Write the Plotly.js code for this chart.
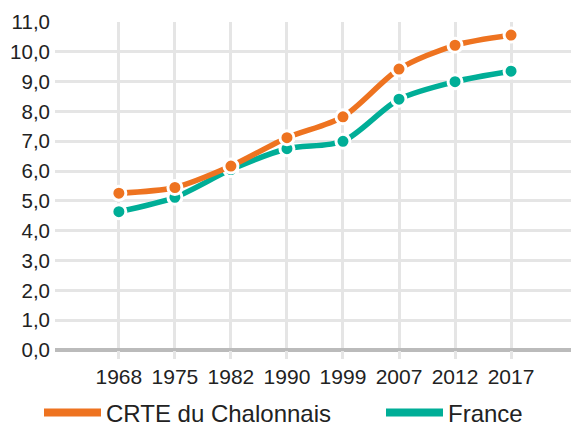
<!DOCTYPE html>
<html><head><meta charset="utf-8">
<script src="https://cdn.plot.ly/plotly-3.0.1.min.js"></script>
<style>body{margin:0}#c{width:571px;height:423px}</style>
</head><body><div id="c"></div>
<script>
const years = ['1968','1975','1982','1990','1999','2007','2012','2017'];
const crte = [5.26, 5.45, 6.17, 7.12, 7.82, 9.42, 10.22, 10.56];
const france = [4.64, 5.12, 6.05, 6.75, 7.0, 8.41, 9.0, 9.35];
const names = ['CRTE du Chalonnais', 'France'];
const colors = ['#ee7320', '#00ae97'];

function series(y, i){
  return {x: years, y: y, type:'scatter', mode:'lines+markers', showlegend:false,
    line:{color:colors[i], width:5.5, shape:'spline', smoothing:0.8},
    marker:{color:colors[i], size:14, line:{color:'#ffffff', width:3}},
    cliponaxis:false};
}
const data = [
  series(france, 1), series(crte, 0),
  {x:[years[0]], y:[null], type:'scatter', mode:'lines', name:names[0], legend:'legend', line:{color:colors[0], width:8}},
  {x:[years[0]], y:[null], type:'scatter', mode:'lines', name:names[1], legend:'legend2', line:{color:colors[1], width:8}}
];
const legBase = {orientation:'h', xanchor:'left', yref:'container', y:10/423, yanchor:'middle', font:{size:24}, itemwidth:57, bgcolor:'rgba(0,0,0,0)'};
const layout = {
  width:571, height:423,
  margin:{l:55, r:0, t:22, b:73, autoexpand:false},
  separators:',.',
  font:{family:'Liberation Sans, Arial, sans-serif', size:21, color:'#222'},
  paper_bgcolor:'#fff', plot_bgcolor:'#fff',
  xaxis:{type:'category', range:[-1.14, 8.07], showgrid:true, gridcolor:'#e5e5e5', gridwidth:3,
    ticks:'outside', ticklen:8, tickcolor:'#e5e5e5', tickwidth:3, showline:false, zeroline:false,
    tickfont:{size:21}, fixedrange:true},
  yaxis:{range:[0, 11], dtick:1, tickformat:'.1f', showgrid:true, gridcolor:'#e5e5e5', gridwidth:3,
    zeroline:true, zerolinecolor:'#bbbbbb', zerolinewidth:4, showline:false, ticks:'',
    ticklabelstandoff:4, tickfont:{size:20.5}},
  legend:Object.assign({}, legBase, {x:(39-55)/516}),
  legend2:Object.assign({}, legBase, {x:(381-55)/516}),
  showlegend:true
};
Plotly.newPlot('c', data, layout, {displayModeBar:false, staticPlot:true});
</script>
</body></html>
